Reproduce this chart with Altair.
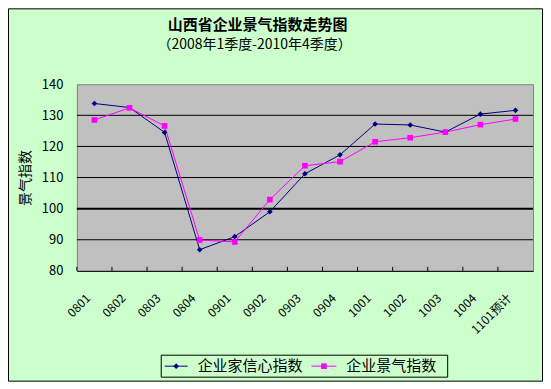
import altair as alt
import pandas as pd

categories = ["0801", "0802", "0803", "0804", "0901", "0902", "0903",
              "0904", "1001", "1002", "1003", "1004", "1101预计"]
confidence = [133.8, 132.5, 124.5, 86.8, 91.0, 99.0, 111.2,
              117.3, 127.2, 126.9, 124.6, 130.4, 131.6]
prosperity = [128.5, 132.4, 126.6, 89.9, 89.3, 102.9, 113.8,
              115.1, 121.5, 122.8, 124.6, 127.0, 128.8]
series_names = ["企业家信心指数", "企业景气指数"]
series_colors = ["#000080", "#FF00FF"]
series_shapes = ["diamond", "square"]
y_ticks = [80, 90, 100, 110, 120, 130, 140]
grid_values = [90, 100, 110, 120, 130]
thick_value = [100]
title_text = "山西省企业景气指数走势图"
subtitle_text = "（2008年1季度-2010年4季度）"
y_title = "景气指数"

FONT = "Noto Sans CJK SC"
W, H = 457, 187

rows = []
for i, c in enumerate(categories):
    rows.append({"cat": c, "series": series_names[0], "value": confidence[i], "idx": i})
for i, c in enumerate(categories):
    rows.append({"cat": c, "series": series_names[1], "value": prosperity[i], "idx": i})
df = pd.DataFrame(rows)

xscale = alt.Scale(type="band", domain=categories, paddingInner=0, paddingOuter=0)
yscale = alt.Scale(domain=[80, 140], nice=False, zero=False)
cscale = alt.Scale(domain=series_names, range=series_colors)

x_axis = alt.Axis(title=None, labelAngle=-45, labelAlign="right",
                  labelBaseline="middle", labelPadding=25, labelOffset=-6,
                  ticks=False, tickSize=0, domain=True, domainColor="black",
                  domainWidth=1, labelFont=FONT, labelFontSize=12,
                  labelColor="black", grid=False)
y_axis = alt.Axis(values=y_ticks, title=y_title, titleFont=FONT,
                  titleFontSize=14, titleFontWeight="normal", titleColor="black",
                  titlePadding=9, labelFont=FONT, labelFontSize=13,
                  labelColor="black", labelPadding=14, ticks=False,
                  tickSize=0, domain=False, grid=False)


def xe(**kw):
    return alt.X("cat:N", scale=xscale, sort=categories, axis=x_axis, **kw)


def ye():
    return alt.Y("value:Q", scale=yscale, axis=y_axis)


base = alt.Chart(df)

grid_df = pd.DataFrame({"value": grid_values,
                        "w": [2 if v in thick_value else 1 for v in grid_values]})
grid = alt.Chart(grid_df).mark_rule(color="black").encode(
    y=ye(),
    strokeWidth=alt.StrokeWidth("w:Q", scale=None, legend=None),
)

tick_df = pd.DataFrame({"cat": categories})
ticks = alt.Chart(tick_df).mark_rule(color="black", strokeWidth=1).encode(
    x=xe(bandPosition=0),
    y=alt.value(H),
    y2=alt.value(H - 4),
)

lines = base.mark_line(strokeWidth=1).encode(
    x=xe(), y=ye(),
    color=alt.Color("series:N", scale=cscale, legend=None),
    order="idx:Q",
)

points = base.mark_point(filled=True, size=32, opacity=1).encode(
    x=xe(), y=ye(),
    color=alt.Color("series:N", scale=cscale, legend=None),
    shape=alt.Shape("series:N", scale=alt.Scale(domain=series_names, range=series_shapes),
                    legend=None),
)

one = alt.Data(values=[{}])

frame = alt.Chart(one).mark_rect(fill=None, stroke="black", strokeWidth=1).encode(
    x=alt.value(-68.5), x2=alt.value(466.5), y=alt.value(-75.5), y2=alt.value(297.5)
)

title_mark = alt.Chart(alt.Data(values=[{"t": title_text}])).mark_text(
    font=FONT, fontSize=15, fontWeight="bold", color="black", align="center", baseline="middle"
).encode(x=alt.value(181), y=alt.value(-59), text="t:N")
subtitle_mark = alt.Chart(alt.Data(values=[{"t": subtitle_text}])).mark_text(
    font=FONT, fontSize=14, color="black", align="center", baseline="middle"
).encode(x=alt.value(178), y=alt.value(-39), text="t:N")

# legend box
legend_box = alt.Chart(one).mark_rect(fill=None, stroke="black", strokeWidth=1).encode(
    x=alt.value(84.5), x2=alt.value(371.5), y=alt.value(271.5), y2=alt.value(293.5)
)
legend_layers = []
leg_line_x = [(88, 111), (235, 260)]
leg_text_x = [121, 270]
leg_y = 282.5
for i, name in enumerate(series_names):
    d = alt.Data(values=[{"s": name}])
    col = series_colors[i]
    legend_layers.append(alt.Chart(d).mark_rule(color=col, strokeWidth=1).encode(
        x=alt.value(leg_line_x[i][0]), x2=alt.value(leg_line_x[i][1]), y=alt.value(leg_y)))
    legend_layers.append(alt.Chart(d).mark_point(filled=True, size=32, opacity=1,
                                                 shape=series_shapes[i], color=col).encode(
        x=alt.value((leg_line_x[i][0] + leg_line_x[i][1]) / 2), y=alt.value(leg_y)))
    legend_layers.append(alt.Chart(d).mark_text(font=FONT, fontSize=15, color="black",
                                                align="left", baseline="middle").encode(
        x=alt.value(leg_text_x[i]), y=alt.value(leg_y), text="s:N"))

chart = alt.layer(frame, grid, ticks, lines, points, title_mark, subtitle_mark,
                  legend_box, *legend_layers).properties(
    width=W, height=H,
    padding={"left": 69, "top": 76, "right": 10, "bottom": 111},
    autosize=alt.AutoSizeParams(type="none"),
).configure(background="#CCFFCC").configure_view(fill="#C0C0C0", stroke="#808080", strokeWidth=1)

chart.save("out.html", embed_options={"renderer": "svg", "actions": False})
